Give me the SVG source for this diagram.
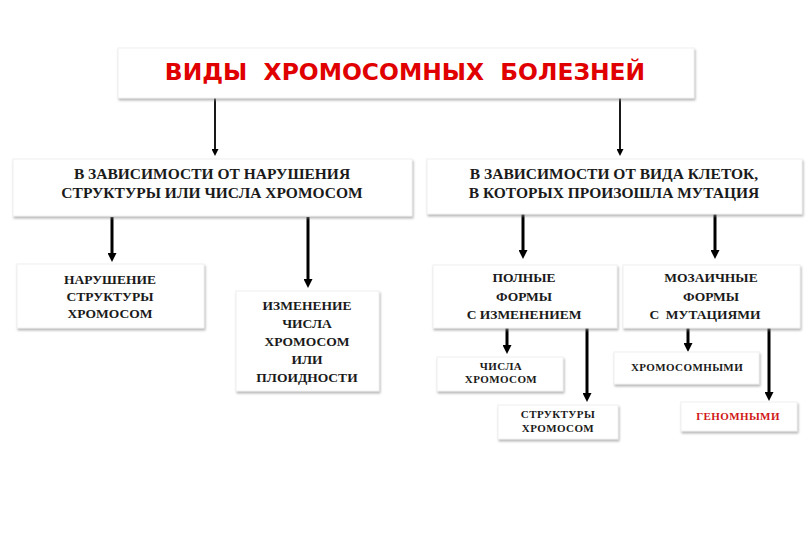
<svg xmlns="http://www.w3.org/2000/svg" width="810" height="540" viewBox="0 0 810 540">
<defs>
<filter id="sh" x="-10%" y="-10%" width="120%" height="130%">
<feDropShadow dx="1" dy="2" stdDeviation="1.3" flood-color="#888" flood-opacity="0.6"/>
</filter>
<marker id="ah" markerUnits="userSpaceOnUse" viewBox="0 0 10 10" refX="0" refY="5" markerWidth="10" markerHeight="9" orient="auto">
<path d="M0,0 L10,5 L0,10 z" fill="#000"/>
</marker>
<marker id="ahs" markerUnits="userSpaceOnUse" viewBox="0 0 10 10" refX="0" refY="5" markerWidth="8" markerHeight="7" orient="auto">
<path d="M0,0 L10,5 L0,10 z" fill="#000"/>
</marker>
</defs>
<style>
.box{fill:#fff;stroke:#f0f0f0;stroke-width:1;filter:url(#sh)}
.t{font-family:"Liberation Serif","Times New Roman",serif;font-weight:bold;fill:#1a1a1a;text-anchor:middle;white-space:pre}
.big{font-size:15.5px}
.mid{font-size:13.5px}
.sm{font-size:11px;letter-spacing:0.4px}
.title{font-family:"DejaVu Sans",Verdana,sans-serif;font-weight:bold;font-size:23.4px;fill:#e00000;text-anchor:middle;white-space:pre}
.c{stroke:#000;stroke-width:3;fill:none;marker-end:url(#ah)}
.cs{stroke:#000;stroke-width:1.8;fill:none;marker-end:url(#ahs)}
</style>
<rect width="810" height="540" fill="#fff"/>

<g id="connectors">
<line class="cs" x1="215" y1="98" x2="215" y2="149"/>
<line class="cs" x1="620" y1="98" x2="620" y2="149"/>
<line class="c" x1="112" y1="217" x2="112" y2="253"/>
<line class="c" x1="308" y1="217" x2="308" y2="279"/>
<line class="c" x1="523" y1="214" x2="523" y2="250"/>
<line class="c" x1="715" y1="214" x2="715" y2="250"/>
<line class="c" x1="507" y1="328" x2="507" y2="345"/>
<line class="c" x1="587" y1="328" x2="587" y2="393"/>
<line class="c" x1="688" y1="328" x2="688" y2="343"/>
<line class="c" x1="769" y1="328" x2="769" y2="392"/>
</g>

<g id="title">
<rect class="box" x="118" y="48" width="576" height="50"/>
<text class="title" x="405" y="80">ВИДЫ  ХРОМОСОМНЫХ  БОЛЕЗНЕЙ</text>
</g>

<g id="by-structure">
<rect class="box" x="13" y="159" width="399" height="57"/>
<text class="t big" x="212" y="179">В ЗАВИСИМОСТИ ОТ НАРУШЕНИЯ</text>
<text class="t big" x="212" y="198">СТРУКТУРЫ ИЛИ ЧИСЛА ХРОМОСОМ</text>
</g>

<g id="by-cells">
<rect class="box" x="427" y="159" width="375" height="55"/>
<text class="t big" x="614" y="179">В ЗАВИСИМОСТИ ОТ ВИДА КЛЕТОК,</text>
<text class="t big" x="614" y="198">В КОТОРЫХ ПРОИЗОШЛА МУТАЦИЯ</text>
</g>

<g id="structure-violation">
<rect class="box" x="17" y="264" width="187" height="64"/>
<text class="t mid" x="110" y="284">НАРУШЕНИЕ</text>
<text class="t mid" x="110" y="301">СТРУКТУРЫ</text>
<text class="t mid" x="110" y="318">ХРОМОСОМ</text>
</g>

<g id="number-change">
<rect class="box" x="236" y="291" width="143" height="100"/>
<text class="t mid" x="307" y="310">ИЗМЕНЕНИЕ</text>
<text class="t mid" x="307" y="328">ЧИСЛА</text>
<text class="t mid" x="307" y="346">ХРОМОСОМ</text>
<text class="t mid" x="307" y="364">ИЛИ</text>
<text class="t mid" x="307" y="382">ПЛОИДНОСТИ</text>
</g>

<g id="full-forms">
<rect class="box" x="433" y="265" width="184" height="63"/>
<text class="t mid" x="524" y="282">ПОЛНЫЕ</text>
<text class="t mid" x="524" y="301">ФОРМЫ</text>
<text class="t mid" x="524" y="319">С ИЗМЕНЕНИЕМ</text>
</g>

<g id="mosaic-forms">
<rect class="box" x="623" y="265" width="177" height="63"/>
<text class="t mid" x="711" y="282">МОЗАИЧНЫЕ</text>
<text class="t mid" x="711" y="301">ФОРМЫ</text>
<text class="t mid" x="705" y="319">С  МУТАЦИЯМИ</text>
</g>

<g id="number-chromosomes">
<rect class="box" x="437" y="357" width="126" height="34"/>
<text class="t sm" x="501" y="370">ЧИСЛА</text>
<text class="t sm" x="501" y="383">ХРОМОСОМ</text>
</g>

<g id="structure-chromosomes">
<rect class="box" x="498" y="405" width="120" height="34"/>
<text class="t sm" x="558" y="418">СТРУКТУРЫ</text>
<text class="t sm" x="558" y="432">ХРОМОСОМ</text>
</g>

<g id="chromosomal">
<rect class="box" x="614" y="352" width="145" height="32"/>
<text class="t sm" x="687" y="371">ХРОМОСОМНЫМИ</text>
</g>

<g id="genomic">
<rect class="box" x="681" y="402" width="116" height="29"/>
<text class="t sm" x="738" y="420" style="fill:#d01818">ГЕНОМНЫМИ</text>
</g>
</svg>
